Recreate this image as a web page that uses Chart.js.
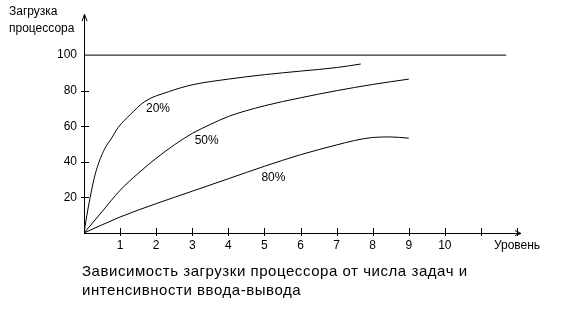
<!DOCTYPE html>
<html><head><meta charset="utf-8">
<script src="https://cdn.jsdelivr.net/npm/chart.js@4"></script>
<style>
html,body{margin:0;padding:0;background:#fff;}
#wrap{position:relative;width:577px;height:318px;overflow:hidden;}
canvas{position:absolute;left:0;top:0;}
.t{position:absolute;font-family:"Liberation Sans",Arial,sans-serif;color:#000;white-space:nowrap;}
</style></head><body>
<div id="wrap">
<canvas id="c" width="577" height="318"></canvas>
<div class="t" id="ytitle" style="left:9px;top:3px;font-size:12px;line-height:17px;">Загрузка<br>процессора</div>
<div class="t" id="caption" style="left:82px;top:261px;font-size:15px;line-height:19px;letter-spacing:0.55px;">Зависимость загрузки процессора от числа задач и<br>интенсивности ввода-вывода</div>
</div>
<script>
// ---- data ----
const xLabels = ['1','2','3','4','5','6','7','8','9','10'];
const xAxisName = 'Уровень';
const yLabels = [20, 40, 60, 80, 100];
const seriesNames = ['20%', '50%', '80%'];
const s20x = [0, 0.08, 0.17, 0.31, 0.54, 0.77, 0.95, 1.28, 1.69, 2.34, 3, 4, 5, 6, 7, 7.67];
const s20y = [0, 10, 20, 33, 46, 53.5, 59.4, 66.5, 74, 79.4, 83.3, 86.5, 89, 91, 93, 95];
const s50x = [0, 0.5, 1, 1.5, 2, 2.5, 3, 3.5, 4, 5, 6, 7, 8, 9];
const s50y = [0, 12, 24, 33.5, 42, 49.5, 56, 61, 65.5, 71.5, 76, 80, 83.5, 86.5];
const s80x = [0, 1, 2, 3, 4, 5, 6, 7, 7.5, 8, 8.5, 9];
const s80y = [0, 9, 16.5, 23.5, 30.5, 37.5, 44, 49.5, 52, 53.7, 54, 53.3];
const limitX = [0, 11.7];
const limitY = [100, 100];
const labelPos = [[2.05, 70], [3.4, 52], [5.25, 31]];

const pts = (xs, ys) => xs.map((x, i) => ({x, y: ys[i]}));
const FONT = '"Liberation Sans", Arial, sans-serif';

const lineDs = (data) => ({data, borderColor:'#000', borderWidth:1, pointRadius:0, fill:false,
  tension:0.4, cubicInterpolationMode:'monotone'});

const axesPlugin = {
  id:'axesPlugin',
  afterDraw(chart){
    const ctx = chart.ctx, xs = chart.scales.x, ys = chart.scales.y;
    const x0 = xs.getPixelForValue(0), y0 = ys.getPixelForValue(0);
    const xEnd = xs.getPixelForValue(12), yTop = ys.getPixelForValue(ys.max);
    ctx.save();
    ctx.strokeStyle = '#000'; ctx.fillStyle = '#000'; ctx.lineWidth = 1;
    ctx.beginPath();
    ctx.moveTo(Math.round(x0)+0.5, y0); ctx.lineTo(Math.round(x0)+0.5, yTop);
    ctx.moveTo(x0, Math.round(y0)+0.5); ctx.lineTo(xEnd+3, Math.round(y0)+0.5);
    ctx.stroke();
    // y arrow
    ctx.beginPath();
    ctx.moveTo(Math.round(x0)+0.5-2.5, yTop+7); ctx.lineTo(Math.round(x0)+0.5, yTop); ctx.lineTo(Math.round(x0)+0.5+2.5, yTop+7);
    ctx.stroke();
    // x arrow
    ctx.beginPath();
    const ay = Math.round(y0)+0.5;
    ctx.moveTo(xEnd-2, ay-3); ctx.lineTo(xEnd+4, ay); ctx.lineTo(xEnd-2, ay+2);
    ctx.stroke();
    // x tick marks
    ctx.beginPath();
    for (let v = 1; v <= 12; v++) {
      const px = Math.round(xs.getPixelForValue(v)) + 0.5;
      ctx.moveTo(px, y0 - 5); ctx.lineTo(px, y0 + 3);
    }
    // y tick marks
    for (const v of yLabels) {
      if (v === 100) continue;
      const py = Math.round(ys.getPixelForValue(v)) + 0.5;
      ctx.moveTo(x0 - 3, py); ctx.lineTo(x0 + 5, py);
    }
    ctx.stroke();
    // series labels
    ctx.font = '12px ' + FONT;
    ctx.textAlign = 'center'; ctx.textBaseline = 'middle';
    seriesNames.forEach((n, i) => {
      ctx.fillText(n, xs.getPixelForValue(labelPos[i][0]), ys.getPixelForValue(labelPos[i][1]));
    });
    ctx.restore();
  }
};

new Chart(document.getElementById('c'), {
  type:'line',
  data:{datasets:[
    lineDs(pts(limitX, limitY)),
    lineDs(pts(s20x, s20y)),
    lineDs(pts(s50x, s50y)),
    lineDs(pts(s80x, s80y))
  ]},
  options:{
    responsive:false, animation:false, devicePixelRatio:1,
    layout:{padding:{left:0, top:12, right:60, bottom:0}},
    plugins:{legend:{display:false}, tooltip:{enabled:false}},
    scales:{
      x:{type:'linear', min:0, max:12,
        grid:{display:false, drawTicks:false}, border:{display:false},
        afterFit(s){ s.height = 85; },
        ticks:{stepSize:1, autoSkip:false, maxRotation:0, padding:5, color:'#000',
          font:{family:FONT, size:12},
          callback(v){ if (v >= 1 && v <= 10) return xLabels[v-1]; if (v === 12) return xAxisName; return ''; }}
      },
      y:{type:'linear', min:0, max:123,
        grid:{display:false, drawTicks:false}, border:{display:false},
        afterFit(s){ s.width = 84; },
        ticks:{stepSize:20, padding:7, color:'#000', font:{family:FONT, size:12},
          callback(v){ return yLabels.includes(v) ? String(v) : ''; }}
      }
    }
  },
  plugins:[axesPlugin]
});
</script>
</body></html>
